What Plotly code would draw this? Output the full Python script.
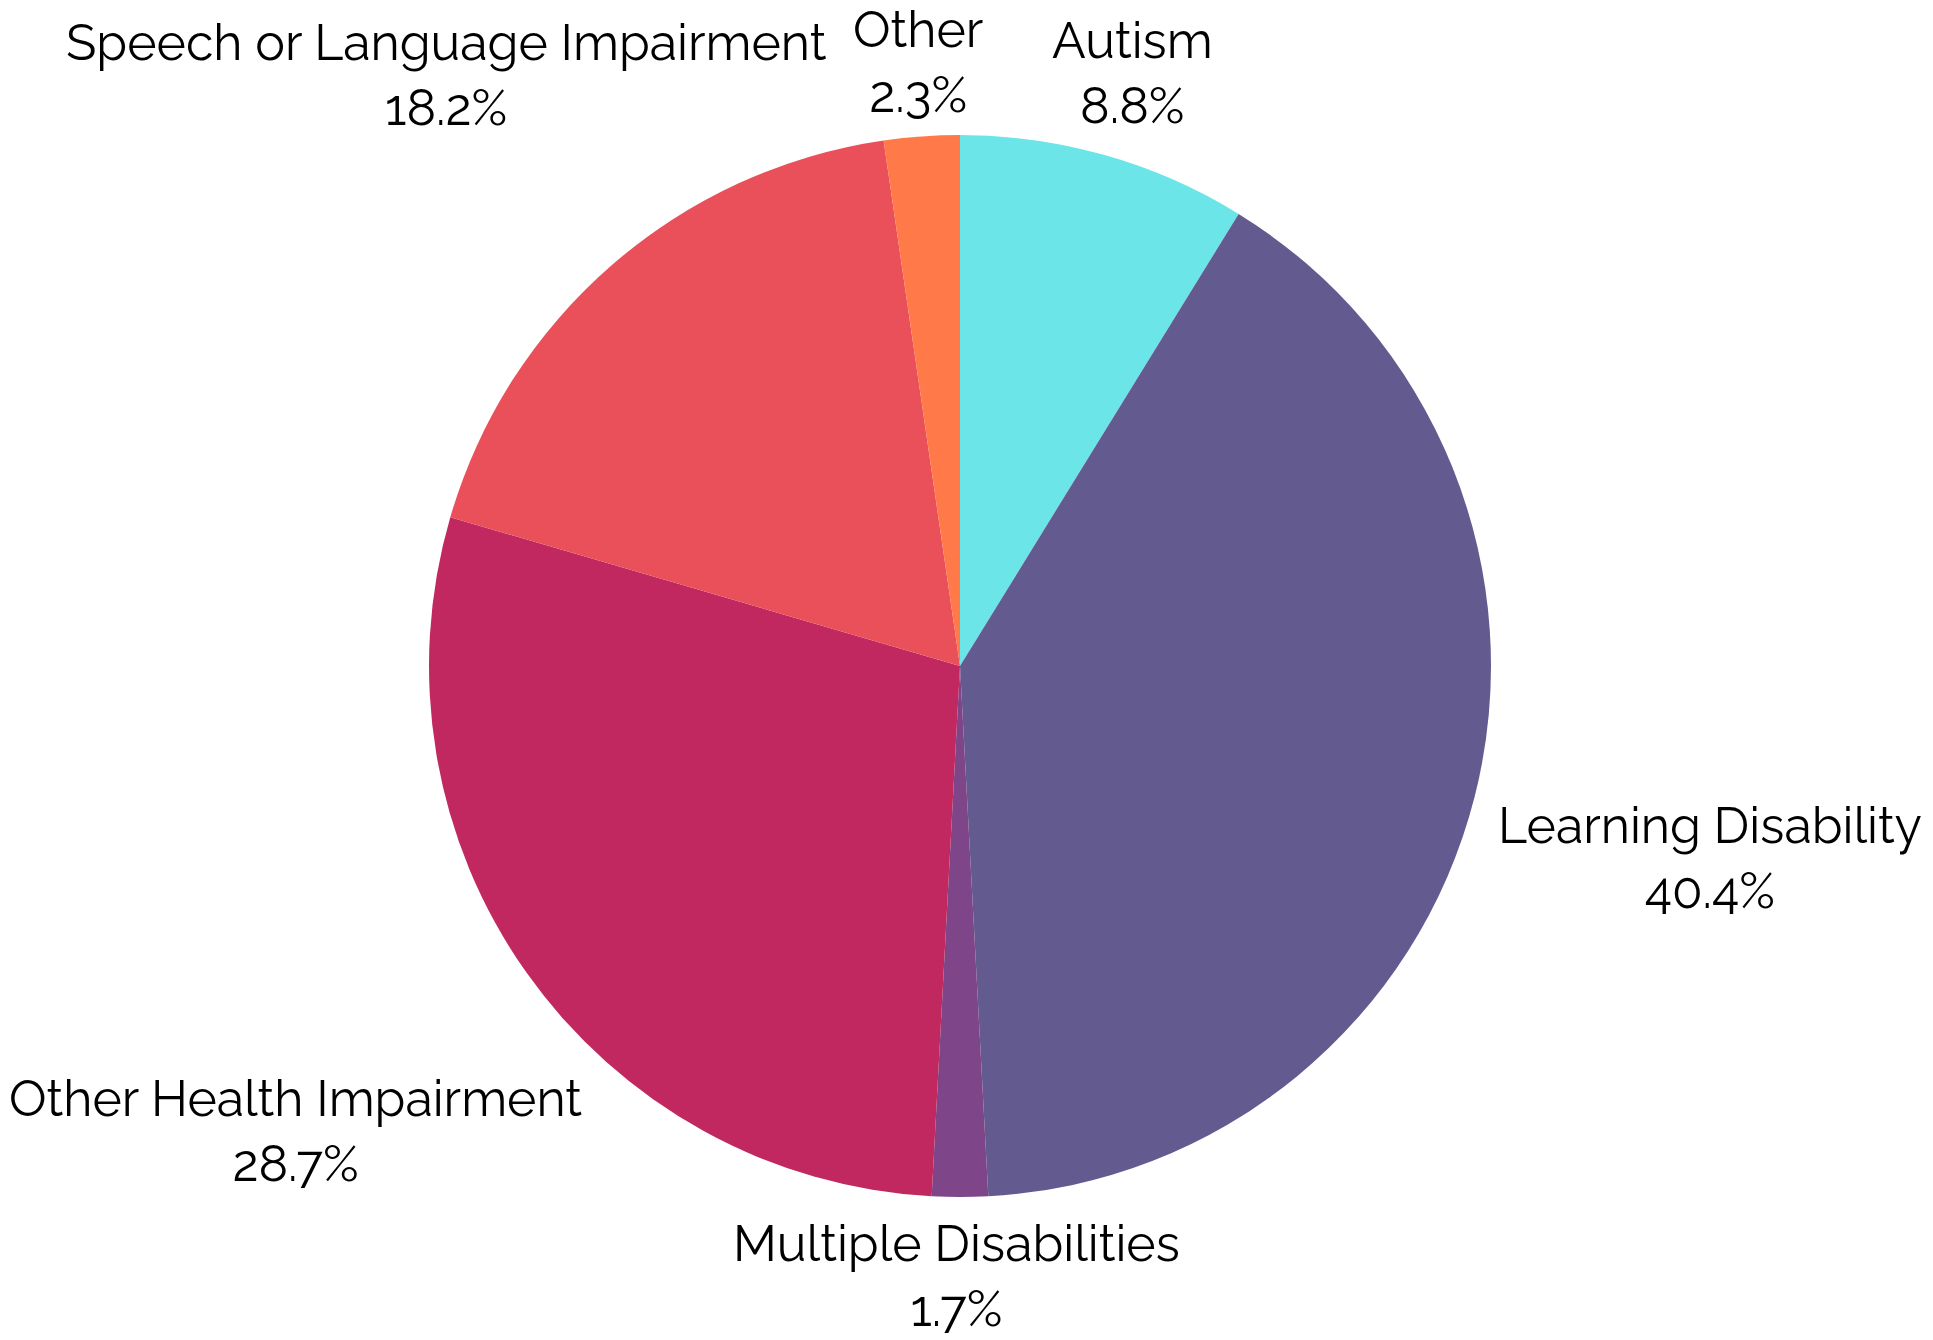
import plotly.graph_objects as go

categories = ["Autism", "Learning Disability", "Multiple Disabilities",
              "Other Health Impairment", "Speech or Language Impairment", "Other"]
values = [8.8, 40.4, 1.7, 28.7, 18.2, 2.3]
colors = ["#6CE5E8", "#635B8F", "#7E4588", "#C0285F", "#E9505A", "#FF7A48"]

W, H = 1933, 1340
ML, MR, MT, MB = 0, 29, 127, 151
PW, PH = W - ML - MR, H - MT - MB

# label block centres (figure pixels) – layout only
label_px = [(1124, 65), (1702, 850), (948, 1268), (287, 1123), (438, 67), (910, 54)]

fig = go.Figure(go.Pie(
    labels=categories,
    values=values,
    sort=False,
    direction="clockwise",
    rotation=0,
    marker=dict(colors=colors, line=dict(color="white", width=0)),
    textinfo="none",
    showlegend=False,
    hoverinfo="label+percent",
))

for cat, val, (px, py) in zip(categories, values, label_px):
    fig.add_annotation(
        x=(px - ML) / PW, y=1 - (py - MT) / PH,
        xref="paper", yref="paper",
        xanchor="center", yanchor="middle",
        text=f"{cat}<br>{val:.1f}%",
        showarrow=False,
        font=dict(family="Raleway, Lato, sans-serif", size=50, color="black"),
    )

fig.update_layout(
    width=W, height=H,
    margin=dict(l=ML, r=MR, t=MT, b=MB),
    paper_bgcolor="white",
    plot_bgcolor="white",
)

fig.write_html("out.html")
